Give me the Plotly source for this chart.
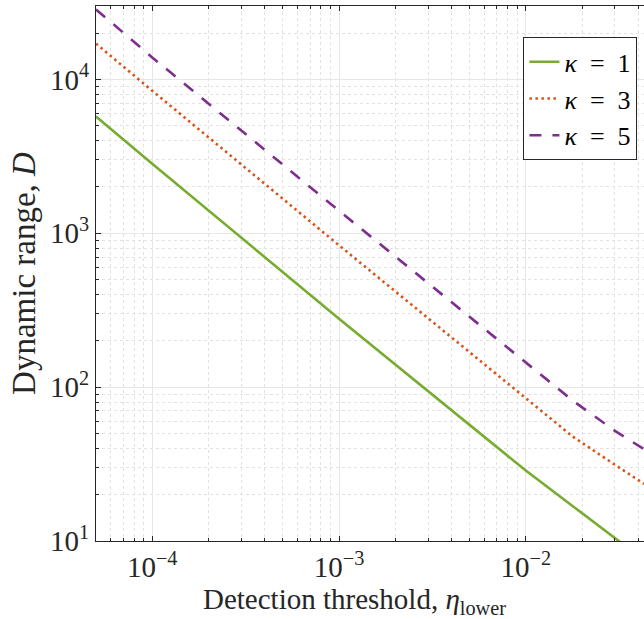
import plotly.graph_objects as go

# Detection threshold (eta_lower) sample points
eta = [5e-5, 1e-4, 1e-3, 1e-2, 1.78e-2, 3e-2, 4.3e-2]

# Dynamic range D for each kappa
d_kappa1 = [5740, 2830, 278, 28.7, 16.9, 10.4, 7.5]
d_kappa3 = [17070, 8440, 835, 84.3, 47.8, 31.3, 23.5]
d_kappa5 = [28500, 13900, 1400, 143.5, 81.9, 52.0, 39.5]

labels = ["<i>κ</i>\u2002=\u20021", "<i>κ</i>\u2002=\u20023", "<i>κ</i>\u2002=\u20025"]
colors = ["#77AC30", "#D95319", "#7E2F8E"]
dashes = ["solid", "2.5px,3.5px", "12px,11px"]

# Major tick labels
x_tickvals = [1e-4, 1e-3, 1e-2]
x_ticktext = ["10<sup>−4</sup>", "10<sup>−3</sup>", "10<sup>−2</sup>"]
y_tickvals = [10, 100, 1000, 10000]
y_ticktext = ["10<sup>1</sup>", "10<sup>2</sup>", "10<sup>3</sup>", "10<sup>4</sup>"]

FONT = "Liberation Serif"
INK = "#262626"

fig = go.Figure()
for ys, name, c, d in zip([d_kappa1, d_kappa3, d_kappa5], labels, colors, dashes):
    fig.add_trace(go.Scatter(
        x=eta, y=ys, mode="lines", name=name,
        line=dict(color=c, width=2.6, dash=d),
    ))

axis_common = dict(
    type="log",
    showline=True, linecolor=INK, linewidth=1,
    ticks="inside", ticklen=5, tickcolor=INK, tickwidth=1,
    showgrid=True, gridcolor="#e6e6e6", gridwidth=1,
    zeroline=False,
    tickfont=dict(family=FONT, size=29, color=INK),
    minor=dict(ticks="inside", ticklen=3, tickcolor=INK, dtick="D1",
               showgrid=True, gridcolor="#e2e2e2", griddash="dot", gridwidth=1),
)

fig.update_layout(
    width=644, height=619,
    margin=dict(l=96, r=0, t=6, b=78),
    paper_bgcolor="white", plot_bgcolor="white",
    font=dict(family=FONT, color=INK),
    xaxis=dict(axis_common, range=[-4.301, -1.367], mirror="ticks",
               tickmode="array", tickvals=x_tickvals, ticktext=x_ticktext),
    yaxis=dict(axis_common, range=[1, 4.477], mirror=False,
               tickmode="array", tickvals=y_tickvals, ticktext=y_ticktext,
               title=dict(text="Dynamic range, <i>D</i>",
                          font=dict(family=FONT, size=33, color=INK), standoff=4)),
    legend=dict(x=0.988, y=0.9415, xanchor="right", yanchor="top",
                bgcolor="white", bordercolor=INK, borderwidth=1,
                font=dict(family=FONT, size=26, color="black"),
                itemwidth=30, tracegroupgap=0),
    showlegend=True,
)

# x-axis label, centred slightly left of the visible plot area
fig.add_annotation(
    text="Detection threshold, <i>η</i><sub>lower</sub>",
    xref="paper", yref="paper", x=0.4726, y=-0.112,
    xanchor="center", yanchor="middle", showarrow=False,
    font=dict(family=FONT, size=29, color=INK),
)

fig.write_html("out.html")
